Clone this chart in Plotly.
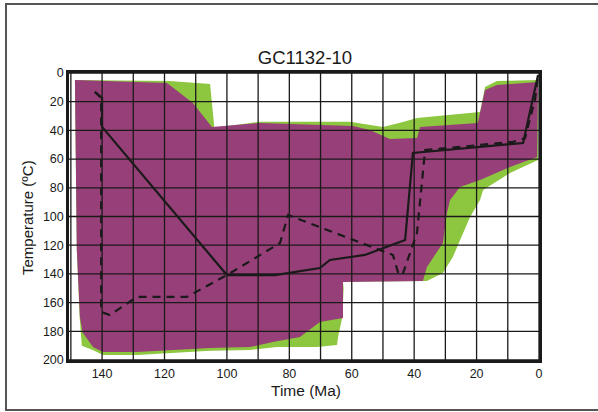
import plotly.graph_objects as go

# Envelope of acceptable fits (green)
acc_t = [148.7, 118.3, 105.4, 103.8, 102.2, 89.4, 60.6, 50.0, 43.6, 39.1, 18.9, 17.3, 13.5, 0.3,
         0.3, 9.3, 17.9, 18.9, 22.1, 27.6, 30.8, 35.9, 62.8, 62.6, 63.0, 64.4, 64.7, 71.2, 84.0,
         92.6, 105.4, 128.8, 139.7, 143.0, 146.5, 147.2, 148.1]
acc_T = [4.9, 5.6, 7.7, 43.2, 37.6, 34.0, 34.0, 37.6, 34.1, 31.4, 27.2, 9.8, 5.6, 4.9,
         60.6, 69.7, 81.5, 88.5, 100.3, 128.2, 139.4, 145.0, 145.5, 150.0, 170.0, 184.0, 189.5, 191.0, 191.0,
         193.0, 193.5, 196.5, 196.5, 193.0, 190.0, 170.0, 123.0]

# Envelope of good fits (magenta)
good_t = [148.7, 119.2, 110.9, 104.8, 89.4, 59.6, 54.2, 47.8, 39.1, 38.1, 19.6, 18.3, 17.3, 13.5, 0.3,
          0.6, 9.3, 18.9, 25.3, 28.5, 29.5, 30.8, 35.9, 37.2, 62.8, 62.8, 70.2, 76.6, 85.3, 92.6,
          105.4, 128.8, 139.7, 142.9, 146.2, 147.1, 148.1]
good_T = [4.9, 7.0, 20.9, 37.6, 34.8, 36.9, 39.7, 46.0, 45.3, 37.6, 34.8, 20.9, 11.8, 8.4, 6.3,
          58.5, 65.5, 74.6, 79.4, 88.5, 97.6, 118.5, 135.2, 145.0, 145.6, 170.7, 173.5, 184.0, 187.5, 191.0,
          191.6, 194.4, 194.4, 191.0, 181.0, 170.0, 123.0]

# Best-fit path (solid)
best_t = [142.3, 140.0, 140.0, 100.0, 84.6, 70.2, 67.0, 55.8, 42.9, 40.4, 5.1, 0.3]
best_T = [13.2, 17.4, 37.6, 140.8, 140.8, 135.9, 130.3, 126.8, 116.4, 55.7, 48.8, 1.4]

# Weighted mean path (dashed)
mean_t = [142.3, 140.3, 140.3, 137.5, 128.8, 112.8, 100.0, 89.4, 83.0, 80.4, 46.8, 45.2, 43.8, 39.1, 36.5,
          8.3, 4.5, 1.3, 0.3]
mean_T = [13.2, 17.4, 166.5, 168.6, 156.0, 156.0, 140.8, 126.8, 118.5, 99.0, 126.8, 138.7, 141.0, 111.5, 53.7,
          48.0, 45.5, 18.8, 1.4]

x_grid = [150, 140, 130, 120, 110, 100, 90, 80, 70, 60, 50, 40, 30, 20, 10, 0]
y_grid = [0, 20, 40, 60, 80, 100, 120, 140, 160, 180, 200]
x_ticks = [140, 120, 100, 80, 60, 40, 20, 0]
y_ticks = [0, 20, 40, 60, 80, 100, 120, 140, 160, 180, 200]

X_MAX, X_MIN = 150.6, 0
Y_MIN, Y_MAX = 0, 200

W, H = 598, 412
L, R, T, B = 69, 59, 73, 52
PW, PH = W - L - R, H - T - B


def px_x(p):
    return (p - L) / PW


def px_y(p):
    return (H - B - p) / PH


fig = go.Figure()
fig.add_trace(go.Scatter(x=acc_t, y=acc_T, fill="toself", mode="lines",
                         line=dict(width=0, color="#8DC63F"), fillcolor="#8DC63F",
                         hoverinfo="skip", showlegend=False))
fig.add_trace(go.Scatter(x=good_t, y=good_T, fill="toself", mode="lines",
                         line=dict(width=0, color="#973F78"), fillcolor="#973F78",
                         hoverinfo="skip", showlegend=False))

# grid drawn above the envelopes
gx, gy = [], []
for v in x_grid:
    gx += [v, v, None]
    gy += [Y_MIN, Y_MAX, None]
for v in y_grid:
    gx += [X_MAX, X_MIN, None]
    gy += [v, v, None]
fig.add_trace(go.Scatter(x=gx, y=gy, mode="lines", line=dict(color="#1a1a1a", width=1.3),
                         hoverinfo="skip", showlegend=False))

fig.add_trace(go.Scatter(x=mean_t, y=mean_T, mode="lines",
                         line=dict(color="#1a1a1a", width=2.2, dash="8px,6px"),
                         showlegend=False))
fig.add_trace(go.Scatter(x=best_t, y=best_T, mode="lines",
                         line=dict(color="#1a1a1a", width=2.2),
                         showlegend=False))

fig.update_layout(
    width=W, height=H,
    margin=dict(l=L, r=R, t=T, b=B, autoexpand=False),
    paper_bgcolor="white", plot_bgcolor="white",
    font=dict(family="Liberation Sans, Arial, sans-serif", color="#1a1a1a", size=12),
    title=dict(text="GC1132-10", x=305 / W, xanchor="center", y=1 - 58 / H, yanchor="middle",
               font=dict(size=18.5), automargin=False),
    shapes=[dict(type="rect", xref="paper", yref="paper",
                 x0=px_x(6), x1=px_x(604), y0=px_y(410), y1=px_y(4),
                 line=dict(color="#555555", width=2), layer="below")],
    annotations=[
        dict(text="Time (Ma)", xref="paper", yref="paper", x=px_x(306), y=px_y(390),
             xanchor="center", yanchor="middle", showarrow=False, font=dict(size=15.5)),
        dict(text="Temperature (ºC)", xref="paper", yref="paper", x=px_x(27), y=px_y(218),
             xanchor="center", yanchor="middle", showarrow=False, textangle=-90,
             font=dict(size=15)),
    ],
)
fig.update_xaxes(range=[X_MAX, X_MIN], tickvals=x_ticks, showgrid=False, zeroline=False,
                 showline=True, linecolor="#1a1a1a", linewidth=2.5, mirror=True,
                 ticks="", ticklen=0, automargin=False, tickfont=dict(size=12.5))
fig.update_yaxes(range=[Y_MAX, Y_MIN], tickvals=y_ticks, showgrid=False, zeroline=False,
                 showline=True, linecolor="#1a1a1a", linewidth=2.5, mirror=True,
                 ticks="", ticklen=0, automargin=False, tickfont=dict(size=12.5))

fig.write_html("out.html", config={"displayModeBar": False},
               post_script="document.body.style.margin='0';document.body.style.overflow='hidden';")
